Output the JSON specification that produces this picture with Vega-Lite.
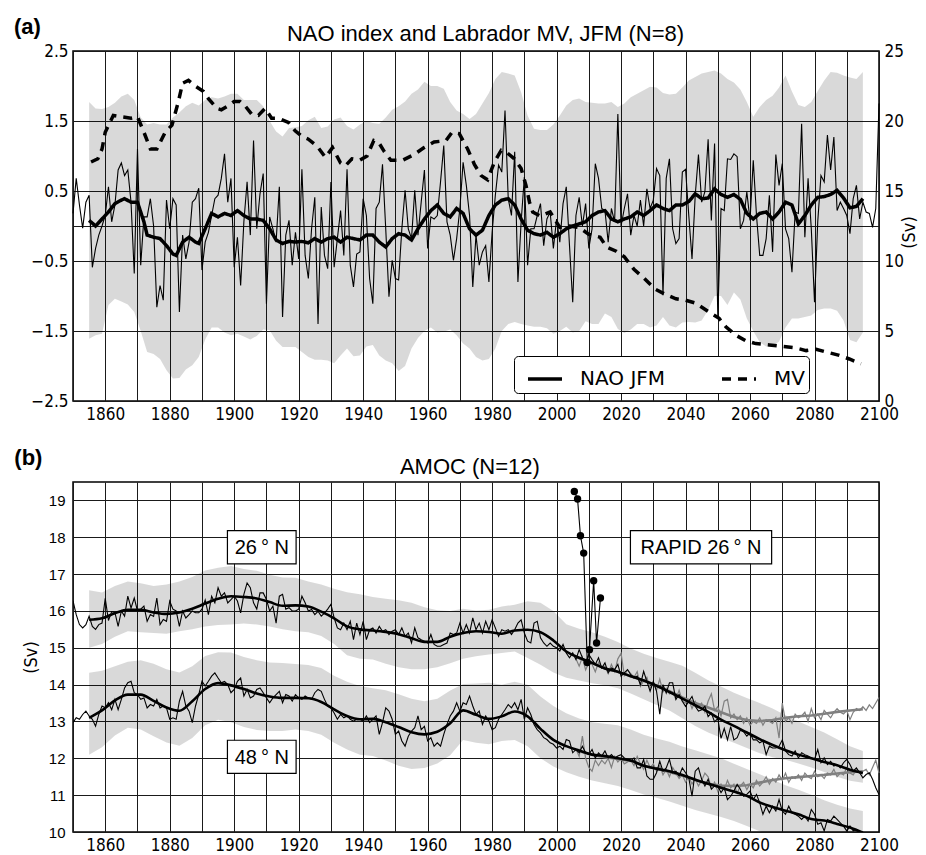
{
"$schema": "https://vega.github.io/schema/vega-lite/v6.json",
"padding": {"left": 13, "top": 14, "right": 5, "bottom": 5},
"spacing": 23,
"config": {
  "view": {"stroke": "black", "strokeWidth": 1.5},
  "axis": {"gridColor": "#1a1a1a", "gridOpacity": 1, "gridWidth": 1, "ticks": false, "domain": false, "labelColor": "black", "labelFlush": false, "labelOverlap": false, "titleColor": "black", "titleFontWeight": "normal"}
},
"datasets": {
"naoA": [
{"year":1850,"v":0.18},{"year":1851,"v":0.68},{"year":1852,"v":0.3},{"year":1853,"v":-0.03},{"year":1854,"v":0.34},{"year":1855,"v":0.44},{"year":1856,"v":-0.59},{"year":1857,"v":-0.32},{"year":1858,"v":-0.13},{"year":1859,"v":0.0},
{"year":1860,"v":0.15},{"year":1861,"v":0.56},{"year":1862,"v":0.06},{"year":1863,"v":0.3},{"year":1864,"v":0.8},{"year":1865,"v":0.9},{"year":1866,"v":0.72},{"year":1867,"v":0.8},{"year":1868,"v":0.34},{"year":1869,"v":-0.68},
{"year":1870,"v":1.1},{"year":1871,"v":-0.56},{"year":1872,"v":0.13},{"year":1873,"v":0.13},{"year":1874,"v":0.39},{"year":1875,"v":0.0},{"year":1876,"v":-1.16},{"year":1877,"v":-0.85},{"year":1878,"v":-1.06},{"year":1879,"v":0.37},
{"year":1880,"v":-0.04},{"year":1881,"v":0.39},{"year":1882,"v":0.3},{"year":1883,"v":-1.23},{"year":1884,"v":-0.13},{"year":1885,"v":-0.47},{"year":1886,"v":-0.23},{"year":1887,"v":0.34},{"year":1888,"v":0.39},{"year":1889,"v":0.54},
{"year":1890,"v":-0.63},{"year":1891,"v":-0.23},{"year":1892,"v":-0.09},{"year":1893,"v":0.15},{"year":1894,"v":0.39},{"year":1895,"v":0.44},{"year":1896,"v":0.68},{"year":1897,"v":1.03},{"year":1898,"v":0.34},{"year":1899,"v":0.68},
{"year":1900,"v":-0.59},{"year":1901,"v":-0.16},{"year":1902,"v":-0.85},{"year":1903,"v":0.06},{"year":1904,"v":0.63},{"year":1905,"v":-0.13},{"year":1906,"v":1.22},{"year":1907,"v":-0.04},{"year":1908,"v":0.46},{"year":1909,"v":0.75},
{"year":1910,"v":-1.11},{"year":1911,"v":0.13},{"year":1912,"v":-0.04},{"year":1913,"v":-0.23},{"year":1914,"v":0.56},{"year":1915,"v":-1.3},{"year":1916,"v":-0.13},{"year":1917,"v":0.08},{"year":1918,"v":-0.56},{"year":1919,"v":-0.09},
{"year":1920,"v":-0.47},{"year":1921,"v":0.81},{"year":1922,"v":-0.42},{"year":1923,"v":-0.75},{"year":1924,"v":-0.04},{"year":1925,"v":0.41},{"year":1926,"v":-1.4},{"year":1927,"v":0.27},{"year":1928,"v":-0.42},{"year":1929,"v":-0.61},
{"year":1930,"v":0.63},{"year":1931,"v":-0.59},{"year":1932,"v":-0.18},{"year":1933,"v":0.22},{"year":1934,"v":-0.42},{"year":1935,"v":0.81},{"year":1936,"v":-0.56},{"year":1937,"v":-0.87},{"year":1938,"v":-0.4},{"year":1939,"v":-0.37},
{"year":1940,"v":0.39},{"year":1941,"v":0.15},{"year":1942,"v":-0.75},{"year":1943,"v":-1.11},{"year":1944,"v":0.25},{"year":1945,"v":0.34},{"year":1946,"v":0.88},{"year":1947,"v":-0.04},{"year":1948,"v":-1.01},{"year":1949,"v":-0.49},
{"year":1950,"v":-0.75},{"year":1951,"v":-0.77},{"year":1952,"v":-0.04},{"year":1953,"v":0.51},{"year":1954,"v":-0.04},{"year":1955,"v":-0.18},{"year":1956,"v":0.51},{"year":1957,"v":-0.13},{"year":1958,"v":0.34},{"year":1959,"v":0.8},
{"year":1960,"v":-0.32},{"year":1961,"v":0.13},{"year":1962,"v":0.1},{"year":1963,"v":0.15},{"year":1964,"v":0.63},{"year":1965,"v":1.15},{"year":1966,"v":0.06},{"year":1967,"v":-0.13},{"year":1968,"v":-0.49},{"year":1969,"v":-0.18},
{"year":1970,"v":0.25},{"year":1971,"v":0.91},{"year":1972,"v":0.58},{"year":1973,"v":0.15},{"year":1974,"v":-0.87},{"year":1975,"v":-0.13},{"year":1976,"v":-0.56},{"year":1977,"v":-0.37},{"year":1978,"v":-0.28},{"year":1979,"v":-0.8},
{"year":1980,"v":-0.09},{"year":1981,"v":0.44},{"year":1982,"v":0.87},{"year":1983,"v":0.77},{"year":1984,"v":1.65},{"year":1985,"v":0.39},{"year":1986,"v":0.15},{"year":1987,"v":1.06},{"year":1988,"v":-0.8},{"year":1989,"v":0.06},
{"year":1990,"v":0.7},{"year":1991,"v":-0.56},{"year":1992,"v":-0.04},{"year":1993,"v":-0.04},{"year":1994,"v":0.15},{"year":1995,"v":0.32},{"year":1996,"v":-0.28},{"year":1997,"v":0.1},{"year":1998,"v":0.2},{"year":1999,"v":-0.32},
{"year":2000,"v":0.1},{"year":2001,"v":-0.23},{"year":2002,"v":0.32},{"year":2003,"v":0.56},{"year":2004,"v":-0.28},{"year":2005,"v":-1.09},{"year":2006,"v":0.15},{"year":2007,"v":0.41},{"year":2008,"v":0.0},{"year":2009,"v":0.32},
{"year":2010,"v":-0.32},{"year":2011,"v":-0.04},{"year":2012,"v":0.89},{"year":2013,"v":0.68},{"year":2014,"v":0.25},{"year":2015,"v":0.22},{"year":2016,"v":-0.23},{"year":2017,"v":0.25},{"year":2018,"v":0.06},{"year":2019,"v":1.6},
{"year":2020,"v":0.0},{"year":2021,"v":0.25},{"year":2022,"v":0.46},{"year":2023,"v":-0.13},{"year":2024,"v":0.15},{"year":2025,"v":0.0},{"year":2026,"v":0.37},{"year":2027,"v":0.0},{"year":2028,"v":0.53},{"year":2029,"v":0.25},
{"year":2030,"v":0.37},{"year":2031,"v":0.82},{"year":2032,"v":0.72},{"year":2033,"v":-0.99},{"year":2034,"v":0.68},{"year":2035,"v":0.96},{"year":2036,"v":-0.04},{"year":2037,"v":-0.25},{"year":2038,"v":-0.18},{"year":2039,"v":0.77},
{"year":2040,"v":0.81},{"year":2041,"v":0.15},{"year":2042,"v":-0.47},{"year":2043,"v":0.44},{"year":2044,"v":1.02},{"year":2045,"v":0.34},{"year":2046,"v":0.49},{"year":2047,"v":1.24},{"year":2048,"v":0.08},{"year":2049,"v":1.18},
{"year":2050,"v":-1.3},{"year":2051,"v":0.25},{"year":2052,"v":0.22},{"year":2053,"v":0.96},{"year":2054,"v":0.95},{"year":2055,"v":1.03},{"year":2056,"v":0.99},{"year":2057,"v":-0.04},{"year":2058,"v":0.08},{"year":2059,"v":0.49},
{"year":2060,"v":0.08},{"year":2061,"v":0.94},{"year":2062,"v":0.15},{"year":2063,"v":-0.42},{"year":2064,"v":-0.42},{"year":2065,"v":-0.18},{"year":2066,"v":0.44},{"year":2067,"v":-0.37},{"year":2068,"v":1.02},{"year":2069,"v":0.58},
{"year":2070,"v":0.89},{"year":2071,"v":-0.04},{"year":2072,"v":-0.18},{"year":2073,"v":-0.66},{"year":2074,"v":0.2},{"year":2075,"v":0.18},{"year":2076,"v":1.46},{"year":2077,"v":-0.16},{"year":2078,"v":0.68},{"year":2079,"v":-0.04},
{"year":2080,"v":-1.09},{"year":2081,"v":0.06},{"year":2082,"v":0.72},{"year":2083,"v":0.63},{"year":2084,"v":1.3},{"year":2085,"v":0.8},{"year":2086,"v":1.27},{"year":2087,"v":0.22},{"year":2088,"v":0.34},{"year":2089,"v":0.25},
{"year":2090,"v":0.15},{"year":2091,"v":-0.11},{"year":2092,"v":0.39},{"year":2093,"v":0.58},{"year":2094,"v":0.1},{"year":2095,"v":0.34},{"year":2096,"v":0.2},{"year":2097,"v":0.18},{"year":2098,"v":-0.02},{"year":2099,"v":0.25},{"year":2100,"v":1.75}
],
"naoS": [
{"year":1855,"v":0.08},{"year":1857,"v":0.0},{"year":1859,"v":0.1},{"year":1861,"v":0.2},{"year":1863,"v":0.32},{"year":1865,"v":0.37},{"year":1866,"v":0.39},{"year":1868,"v":0.34},{"year":1870,"v":0.34},{"year":1872,"v":0.06},
{"year":1873,"v":-0.13},{"year":1875,"v":-0.16},{"year":1877,"v":-0.18},{"year":1879,"v":-0.28},{"year":1881,"v":-0.4},{"year":1882,"v":-0.42},{"year":1884,"v":-0.23},{"year":1886,"v":-0.16},{"year":1888,"v":-0.23},{"year":1889,"v":-0.25},
{"year":1891,"v":-0.04},{"year":1893,"v":0.18},{"year":1895,"v":0.13},{"year":1897,"v":0.18},{"year":1899,"v":0.15},{"year":1901,"v":0.22},{"year":1903,"v":0.15},{"year":1905,"v":0.1},{"year":1907,"v":0.1},{"year":1909,"v":0.08},
{"year":1911,"v":-0.04},{"year":1913,"v":-0.2},{"year":1915,"v":-0.25},{"year":1917,"v":-0.22},{"year":1919,"v":-0.23},{"year":1921,"v":-0.22},{"year":1923,"v":-0.24},{"year":1925,"v":-0.18},{"year":1927,"v":-0.23},{"year":1929,"v":-0.18},
{"year":1931,"v":-0.16},{"year":1933,"v":-0.23},{"year":1935,"v":-0.16},{"year":1937,"v":-0.18},{"year":1939,"v":-0.2},{"year":1941,"v":-0.13},{"year":1943,"v":-0.13},{"year":1945,"v":-0.23},{"year":1947,"v":-0.3},{"year":1949,"v":-0.18},
{"year":1951,"v":-0.11},{"year":1953,"v":-0.13},{"year":1955,"v":-0.2},{"year":1957,"v":-0.04},{"year":1959,"v":0.1},{"year":1961,"v":0.22},{"year":1963,"v":0.3},{"year":1965,"v":0.18},{"year":1967,"v":0.13},{"year":1969,"v":0.25},
{"year":1971,"v":0.18},{"year":1973,"v":-0.04},{"year":1975,"v":-0.13},{"year":1977,"v":-0.06},{"year":1979,"v":0.15},{"year":1981,"v":0.3},{"year":1983,"v":0.37},{"year":1985,"v":0.39},{"year":1987,"v":0.3},{"year":1989,"v":0.1},
{"year":1991,"v":-0.06},{"year":1993,"v":-0.11},{"year":1995,"v":-0.13},{"year":1997,"v":-0.09},{"year":1999,"v":-0.16},{"year":2001,"v":-0.11},{"year":2003,"v":-0.04},{"year":2005,"v":0.0},{"year":2007,"v":0.03},{"year":2009,"v":0.06},
{"year":2011,"v":0.15},{"year":2013,"v":0.2},{"year":2015,"v":0.22},{"year":2017,"v":0.1},{"year":2019,"v":0.06},{"year":2021,"v":0.1},{"year":2023,"v":0.13},{"year":2025,"v":0.2},{"year":2027,"v":0.15},{"year":2029,"v":0.22},
{"year":2031,"v":0.3},{"year":2033,"v":0.25},{"year":2035,"v":0.22},{"year":2037,"v":0.3},{"year":2039,"v":0.3},{"year":2041,"v":0.35},{"year":2043,"v":0.46},{"year":2045,"v":0.39},{"year":2047,"v":0.4},{"year":2049,"v":0.53},
{"year":2051,"v":0.45},{"year":2053,"v":0.41},{"year":2055,"v":0.45},{"year":2057,"v":0.38},{"year":2059,"v":0.18},{"year":2061,"v":0.1},{"year":2063,"v":0.18},{"year":2065,"v":0.2},{"year":2067,"v":0.1},{"year":2069,"v":0.2},
{"year":2071,"v":0.34},{"year":2073,"v":0.3},{"year":2075,"v":0.03},{"year":2077,"v":0.15},{"year":2079,"v":0.3},{"year":2081,"v":0.41},{"year":2083,"v":0.42},{"year":2085,"v":0.45},{"year":2087,"v":0.51},{"year":2089,"v":0.4},
{"year":2091,"v":0.26},{"year":2093,"v":0.28},{"year":2095,"v":0.39}
],
"bandA": [
{"year":1855,"hi":1.77,"lo":-1.61},{"year":1857,"hi":1.68,"lo":-1.56},{"year":1859,"hi":1.67,"lo":-1.54},{"year":1861,"hi":1.7,"lo":-1.13},{"year":1863,"hi":1.76,"lo":-1.04},{"year":1865,"hi":1.85,"lo":-1.08},{"year":1867,"hi":1.89,"lo":-1.12},{"year":1869,"hi":1.8,"lo":-1.23},
{"year":1871,"hi":1.55,"lo":-1.5},{"year":1873,"hi":1.45,"lo":-1.8},{"year":1875,"hi":1.47,"lo":-1.83},{"year":1877,"hi":1.45,"lo":-1.9},{"year":1879,"hi":1.45,"lo":-2.06},{"year":1881,"hi":1.55,"lo":-2.18},{"year":1883,"hi":1.62,"lo":-2.17},{"year":1885,"hi":1.71,"lo":-2.05},
{"year":1887,"hi":1.76,"lo":-1.99},{"year":1889,"hi":1.72,"lo":-1.87},{"year":1891,"hi":1.8,"lo":-1.62},{"year":1893,"hi":1.84,"lo":-1.45},{"year":1895,"hi":1.82,"lo":-1.45},{"year":1897,"hi":1.85,"lo":-1.52},{"year":1899,"hi":1.89,"lo":-1.56},{"year":1901,"hi":1.89,"lo":-1.54},
{"year":1903,"hi":1.8,"lo":-1.58},{"year":1905,"hi":1.8,"lo":-1.62},{"year":1907,"hi":1.8,"lo":-1.57},{"year":1909,"hi":1.71,"lo":-1.48},{"year":1911,"hi":1.5,"lo":-1.49},{"year":1913,"hi":1.35,"lo":-1.64},{"year":1915,"hi":1.28,"lo":-1.73},{"year":1917,"hi":1.4,"lo":-1.73},
{"year":1919,"hi":1.41,"lo":-1.73},{"year":1921,"hi":1.43,"lo":-1.8},{"year":1923,"hi":1.51,"lo":-1.87},{"year":1925,"hi":1.56,"lo":-1.91},{"year":1927,"hi":1.4,"lo":-1.91},{"year":1929,"hi":1.42,"lo":-1.92},{"year":1931,"hi":1.52,"lo":-1.96},{"year":1933,"hi":1.55,"lo":-1.85},
{"year":1935,"hi":1.43,"lo":-1.75},{"year":1937,"hi":1.38,"lo":-1.86},{"year":1939,"hi":1.45,"lo":-1.85},{"year":1941,"hi":1.5,"lo":-1.72},{"year":1943,"hi":1.47,"lo":-1.7},{"year":1945,"hi":1.46,"lo":-1.85},{"year":1947,"hi":1.55,"lo":-1.92},{"year":1949,"hi":1.66,"lo":-1.96},
{"year":1951,"hi":1.71,"lo":-2.07},{"year":1953,"hi":1.78,"lo":-2.0},{"year":1955,"hi":1.89,"lo":-1.75},{"year":1957,"hi":1.95,"lo":-1.6},{"year":1959,"hi":2.06,"lo":-1.5},{"year":1961,"hi":2.0,"lo":-1.45},{"year":1963,"hi":2.0,"lo":-1.52},{"year":1965,"hi":1.96,"lo":-1.51},
{"year":1967,"hi":1.77,"lo":-1.48},{"year":1969,"hi":1.65,"lo":-1.56},{"year":1971,"hi":1.6,"lo":-1.68},{"year":1973,"hi":1.53,"lo":-1.75},{"year":1975,"hi":1.6,"lo":-1.87},{"year":1977,"hi":1.75,"lo":-1.92},{"year":1979,"hi":1.9,"lo":-1.9},{"year":1981,"hi":2.1,"lo":-1.75},
{"year":1983,"hi":2.2,"lo":-1.5},{"year":1985,"hi":2.18,"lo":-1.4},{"year":1987,"hi":2.15,"lo":-1.37},{"year":1989,"hi":1.91,"lo":-1.4},{"year":1991,"hi":1.58,"lo":-1.42},{"year":1993,"hi":1.39,"lo":-1.44},{"year":1995,"hi":1.37,"lo":-1.44},{"year":1997,"hi":1.37,"lo":-1.46},
{"year":1999,"hi":1.45,"lo":-1.54},{"year":2001,"hi":1.58,"lo":-1.5},{"year":2003,"hi":1.72,"lo":-1.44},{"year":2005,"hi":1.8,"lo":-1.52},{"year":2007,"hi":1.82,"lo":-1.5},{"year":2009,"hi":1.77,"lo":-1.36},{"year":2011,"hi":1.76,"lo":-1.4},{"year":2013,"hi":1.75,"lo":-1.4},
{"year":2015,"hi":1.75,"lo":-1.25},{"year":2017,"hi":1.77,"lo":-1.3},{"year":2019,"hi":1.7,"lo":-1.47},{"year":2021,"hi":1.75,"lo":-1.53},{"year":2023,"hi":1.84,"lo":-1.48},{"year":2025,"hi":1.89,"lo":-1.4},{"year":2027,"hi":1.94,"lo":-1.4},{"year":2029,"hi":1.99,"lo":-1.45},
{"year":2031,"hi":1.98,"lo":-1.42},{"year":2033,"hi":1.9,"lo":-1.3},{"year":2035,"hi":1.88,"lo":-1.42},{"year":2037,"hi":1.89,"lo":-1.45},{"year":2039,"hi":1.98,"lo":-1.38},{"year":2041,"hi":2.08,"lo":-1.37},{"year":2043,"hi":2.13,"lo":-1.38},{"year":2045,"hi":2.18,"lo":-1.35},
{"year":2047,"hi":2.2,"lo":-1.2},{"year":2049,"hi":2.22,"lo":-1.0},{"year":2051,"hi":2.18,"lo":-1.0},{"year":2053,"hi":2.1,"lo":-1.13},{"year":2055,"hi":2.05,"lo":-0.95},{"year":2057,"hi":1.95,"lo":-1.05},{"year":2059,"hi":1.77,"lo":-1.32},{"year":2061,"hi":1.56,"lo":-1.5},
{"year":2063,"hi":1.7,"lo":-1.66},{"year":2065,"hi":1.8,"lo":-1.72},{"year":2067,"hi":1.86,"lo":-1.72},{"year":2069,"hi":1.98,"lo":-1.65},{"year":2071,"hi":2.15,"lo":-1.45},{"year":2073,"hi":1.92,"lo":-1.32},{"year":2075,"hi":1.73,"lo":-1.32},{"year":2077,"hi":1.7,"lo":-1.3},
{"year":2079,"hi":1.77,"lo":-1.28},{"year":2081,"hi":1.93,"lo":-1.2},{"year":2083,"hi":2.08,"lo":-1.18},{"year":2085,"hi":2.2,"lo":-1.18},{"year":2087,"hi":2.19,"lo":-1.21},{"year":2089,"hi":2.15,"lo":-1.35},{"year":2091,"hi":2.12,"lo":-1.63},{"year":2093,"hi":2.1,"lo":-1.66},{"year":2095,"hi":2.2,"lo":-1.52}
],
"mv": [
{"year":1855.6,"mv":17.07},{"year":1857.7,"mv":17.3},{"year":1859,"mv":18.0},{"year":1860,"mv":19.2},{"year":1862.5,"mv":20.4},{"year":1865,"mv":20.3},{"year":1868,"mv":20.2},{"year":1870,"mv":20.3},{"year":1872,"mv":19.2},{"year":1874,"mv":18.0},
{"year":1876,"mv":18.0},{"year":1878.6,"mv":19.2},{"year":1880.7,"mv":19.7},{"year":1882.7,"mv":21.4},{"year":1884,"mv":22.7},{"year":1885.8,"mv":22.9},{"year":1887.9,"mv":22.5},{"year":1890.5,"mv":22.1},{"year":1892,"mv":21.6},{"year":1894.6,"mv":20.9},
{"year":1896,"mv":20.8},{"year":1898.2,"mv":21.1},{"year":1900,"mv":21.4},{"year":1901.8,"mv":21.4},{"year":1903.3,"mv":21.1},{"year":1905.4,"mv":20.5},{"year":1907.5,"mv":20.4},{"year":1909.6,"mv":20.9},{"year":1911.6,"mv":20.2},{"year":1913.7,"mv":20.2},
{"year":1916.8,"mv":19.9},{"year":1918.9,"mv":19.3},{"year":1921,"mv":18.9},{"year":1923,"mv":18.7},{"year":1925.7,"mv":18.2},{"year":1928.3,"mv":17.4},{"year":1930.5,"mv":18.1},{"year":1933,"mv":17.0},{"year":1934.5,"mv":16.8},{"year":1936.5,"mv":17.3},
{"year":1939,"mv":17.2},{"year":1941.2,"mv":17.5},{"year":1943.3,"mv":18.6},{"year":1945,"mv":18.4},{"year":1946.6,"mv":17.8},{"year":1948.6,"mv":17.2},{"year":1952.3,"mv":17.2},{"year":1955.8,"mv":17.6},{"year":1958.9,"mv":18.1},{"year":1962,"mv":18.5},
{"year":1965.7,"mv":18.6},{"year":1967.6,"mv":19.2},{"year":1969.8,"mv":19.1},{"year":1972.4,"mv":18.0},{"year":1974.5,"mv":16.9},{"year":1976.6,"mv":16.1},{"year":1978.6,"mv":15.8},{"year":1980.7,"mv":17.07},{"year":1982.8,"mv":17.9},{"year":1984.8,"mv":17.7},
{"year":1986.9,"mv":17.3},{"year":1989,"mv":16.6},{"year":1990.5,"mv":15.4},{"year":1991.6,"mv":14.2},{"year":1992.6,"mv":13.5},{"year":1995,"mv":13.2},{"year":1998,"mv":13.5},{"year":2001,"mv":12.4},{"year":2004,"mv":12.5},{"year":2007,"mv":12.4},
{"year":2010,"mv":11.9},{"year":2013.5,"mv":11.7},{"year":2015.5,"mv":11.0},{"year":2018.5,"mv":10.7},{"year":2021,"mv":10.3},{"year":2024,"mv":9.4},{"year":2027,"mv":8.8},{"year":2030.5,"mv":8.0},{"year":2033.9,"mv":7.6},{"year":2037,"mv":7.3},
{"year":2040,"mv":7.2},{"year":2043,"mv":7.0},{"year":2047,"mv":6.4},{"year":2050.4,"mv":5.9},{"year":2052.5,"mv":5.3},{"year":2055.6,"mv":4.7},{"year":2058.7,"mv":4.3},{"year":2061.8,"mv":4.1},{"year":2066,"mv":4.0},{"year":2070,"mv":3.9},
{"year":2074,"mv":3.8},{"year":2077.4,"mv":3.6},{"year":2080.5,"mv":3.7},{"year":2083.6,"mv":3.5},{"year":2087.7,"mv":3.26},{"year":2090.8,"mv":3.0},{"year":2094.4,"mv":2.66}
],
"amocA": [
{"year":1850,"t26":16.27,"t48":12.97},{"year":1851,"t26":15.9,"t48":13.1},{"year":1852,"t26":15.63,"t48":13.06},{"year":1853,"t26":15.54,"t48":13.19},{"year":1854,"t26":15.63,"t48":13.28},{"year":1855,"t26":15.86,"t48":13.15},{"year":1856,"t26":15.58,"t48":13.06},{"year":1857,"t26":15.5,"t48":12.87},{"year":1858,"t26":15.63,"t48":13.19},{"year":1859,"t26":15.67,"t48":13.42},
{"year":1860,"t26":16.34,"t48":13.37},{"year":1861,"t26":15.74,"t48":13.51},{"year":1862,"t26":15.98,"t48":13.32},{"year":1863,"t26":15.96,"t48":13.6},{"year":1864,"t26":15.58,"t48":13.32},{"year":1865,"t26":16.0,"t48":13.6},{"year":1866,"t26":15.86,"t48":13.91},{"year":1867,"t26":16.4,"t48":14.05},{"year":1868,"t26":16.08,"t48":14.09},{"year":1869,"t26":16.35,"t48":13.78},
{"year":1870,"t26":16.0,"t48":13.73},{"year":1871,"t26":16.05,"t48":13.6},{"year":1872,"t26":16.13,"t48":13.64},{"year":1873,"t26":15.72,"t48":13.37},{"year":1874,"t26":15.9,"t48":13.46},{"year":1875,"t26":15.85,"t48":13.42},{"year":1876,"t26":16.35,"t48":13.6},{"year":1877,"t26":15.63,"t48":13.37},{"year":1878,"t26":15.77,"t48":13.42},{"year":1879,"t26":15.72,"t48":13.37},
{"year":1880,"t26":16.27,"t48":13.06},{"year":1881,"t26":16.05,"t48":13.1},{"year":1882,"t26":16.0,"t48":13.06},{"year":1883,"t26":15.58,"t48":13.55},{"year":1884,"t26":16.0,"t48":13.82},{"year":1885,"t26":15.81,"t48":13.42},{"year":1886,"t26":15.9,"t48":13.28},{"year":1887,"t26":16.0,"t48":12.97},{"year":1888,"t26":15.95,"t48":13.42},{"year":1889,"t26":15.95,"t48":13.73},
{"year":1890,"t26":16.05,"t48":14.09},{"year":1891,"t26":16.3,"t48":13.96},{"year":1892,"t26":15.9,"t48":14.09},{"year":1893,"t26":16.4,"t48":14.23},{"year":1894,"t26":16.22,"t48":14.32},{"year":1895,"t26":16.63,"t48":14.18},{"year":1896,"t26":16.4,"t48":14.05},{"year":1897,"t26":16.49,"t48":14.09},{"year":1898,"t26":16.22,"t48":14.0},{"year":1899,"t26":16.31,"t48":13.78},
{"year":1900,"t26":16.4,"t48":13.87},{"year":1901,"t26":16.27,"t48":14.09},{"year":1902,"t26":15.95,"t48":14.18},{"year":1903,"t26":16.45,"t48":13.69},{"year":1904,"t26":16.76,"t48":13.87},{"year":1905,"t26":16.63,"t48":13.64},{"year":1906,"t26":16.22,"t48":13.69},{"year":1907,"t26":16.05,"t48":13.87},{"year":1908,"t26":16.49,"t48":13.91},{"year":1909,"t26":16.49,"t48":13.78},
{"year":1910,"t26":16.31,"t48":13.64},{"year":1911,"t26":16.0,"t48":13.51},{"year":1912,"t26":16.13,"t48":13.64},{"year":1913,"t26":15.67,"t48":13.73},{"year":1914,"t26":16.4,"t48":13.82},{"year":1915,"t26":16.45,"t48":13.51},{"year":1916,"t26":16.05,"t48":13.73},{"year":1917,"t26":16.09,"t48":13.69},{"year":1918,"t26":16.0,"t48":13.55},{"year":1919,"t26":16.0,"t48":13.73},
{"year":1920,"t26":16.05,"t48":13.64},{"year":1921,"t26":16.4,"t48":13.6},{"year":1922,"t26":16.22,"t48":13.69},{"year":1923,"t26":16.0,"t48":13.64},{"year":1924,"t26":16.04,"t48":13.6},{"year":1925,"t26":15.9,"t48":13.78},{"year":1926,"t26":15.99,"t48":13.87},{"year":1927,"t26":15.86,"t48":13.82},{"year":1928,"t26":15.94,"t48":13.6},{"year":1929,"t26":16.05,"t48":13.42},
{"year":1930,"t26":16.18,"t48":13.37},{"year":1931,"t26":15.81,"t48":13.23},{"year":1932,"t26":15.54,"t48":13.06},{"year":1933,"t26":15.49,"t48":13.19},{"year":1934,"t26":15.67,"t48":13.1},{"year":1935,"t26":15.49,"t48":13.15},{"year":1936,"t26":15.72,"t48":13.06},{"year":1937,"t26":15.22,"t48":13.01},{"year":1938,"t26":15.67,"t48":13.06},{"year":1939,"t26":15.36,"t48":13.06},
{"year":1940,"t26":15.72,"t48":13.01},{"year":1941,"t26":15.22,"t48":13.15},{"year":1942,"t26":15.49,"t48":12.97},{"year":1943,"t26":15.54,"t48":13.06},{"year":1944,"t26":15.4,"t48":13.15},{"year":1945,"t26":15.58,"t48":12.65},{"year":1946,"t26":15.45,"t48":12.97},{"year":1947,"t26":15.49,"t48":13.37},{"year":1948,"t26":15.36,"t48":13.28},{"year":1949,"t26":15.45,"t48":13.06},
{"year":1950,"t26":15.49,"t48":12.65},{"year":1951,"t26":15.36,"t48":12.74},{"year":1952,"t26":15.54,"t48":12.47},{"year":1953,"t26":15.31,"t48":12.33},{"year":1954,"t26":15.4,"t48":12.6},{"year":1955,"t26":15.13,"t48":12.74},{"year":1956,"t26":15.54,"t48":12.83},{"year":1957,"t26":15.27,"t48":13.15},{"year":1958,"t26":15.22,"t48":12.78},{"year":1959,"t26":15.18,"t48":12.87},
{"year":1960,"t26":15.13,"t48":12.47},{"year":1961,"t26":15.36,"t48":12.56},{"year":1962,"t26":15.09,"t48":12.33},{"year":1963,"t26":15.04,"t48":12.42},{"year":1964,"t26":15.04,"t48":12.33},{"year":1965,"t26":15.09,"t48":12.65},{"year":1966,"t26":15.13,"t48":12.92},{"year":1967,"t26":15.4,"t48":13.15},{"year":1968,"t26":15.36,"t48":13.28},{"year":1969,"t26":15.4,"t48":13.51},
{"year":1970,"t26":15.67,"t48":13.28},{"year":1971,"t26":15.4,"t48":13.51},{"year":1972,"t26":15.63,"t48":13.46},{"year":1973,"t26":15.4,"t48":13.69},{"year":1974,"t26":15.81,"t48":13.42},{"year":1975,"t26":15.49,"t48":13.19},{"year":1976,"t26":15.67,"t48":13.28},{"year":1977,"t26":15.4,"t48":12.92},{"year":1978,"t26":15.72,"t48":13.15},{"year":1979,"t26":15.49,"t48":13.01},
{"year":1980,"t26":15.76,"t48":12.78},{"year":1981,"t26":15.54,"t48":12.83},{"year":1982,"t26":15.31,"t48":13.06},{"year":1983,"t26":15.49,"t48":13.19},{"year":1984,"t26":15.45,"t48":13.32},{"year":1985,"t26":15.49,"t48":13.46},{"year":1986,"t26":15.36,"t48":13.37},{"year":1987,"t26":15.49,"t48":13.51},{"year":1988,"t26":15.67,"t48":13.32},{"year":1989,"t26":15.76,"t48":13.6},
{"year":1990,"t26":15.4,"t48":13.06},{"year":1991,"t26":15.18,"t48":13.37},{"year":1992,"t26":15.13,"t48":13.19},{"year":1993,"t26":15.67,"t48":12.92},{"year":1994,"t26":15.72,"t48":12.78},{"year":1995,"t26":15.27,"t48":12.69},{"year":1996,"t26":15.13,"t48":12.56},{"year":1997,"t26":15.04,"t48":12.51},{"year":1998,"t26":15.13,"t48":12.42},{"year":1999,"t26":15.04,"t48":12.38},
{"year":2000,"t26":15.0,"t48":12.28},{"year":2001,"t26":14.91,"t48":12.33},{"year":2002,"t26":15.09,"t48":12.24},{"year":2003,"t26":14.86,"t48":12.51},{"year":2004,"t26":14.73,"t48":12.47},{"year":2005,"t26":14.86,"t48":12.15},{"year":2006,"t26":14.68,"t48":12.24},{"year":2007,"t26":14.95,"t48":12.15},{"year":2008,"t26":14.73,"t48":12.33},{"year":2009,"t26":14.59,"t48":12.15},
{"year":2010,"t26":14.82,"t48":12.1},{"year":2011,"t26":14.68,"t48":12.24},{"year":2012,"t26":14.55,"t48":12.01},{"year":2013,"t26":14.73,"t48":12.15},{"year":2014,"t26":14.45,"t48":12.06},{"year":2015,"t26":14.59,"t48":12.2},{"year":2016,"t26":14.32,"t48":12.01},{"year":2017,"t26":14.45,"t48":12.1},{"year":2018,"t26":14.41,"t48":12.01},{"year":2019,"t26":14.55,"t48":12.06},
{"year":2020,"t26":14.23,"t48":12.1},{"year":2021,"t26":14.32,"t48":12.01},{"year":2022,"t26":14.41,"t48":11.97},{"year":2023,"t26":14.27,"t48":11.92},{"year":2024,"t26":14.18,"t48":12.01},{"year":2025,"t26":14.23,"t48":11.74},{"year":2026,"t26":14.0,"t48":11.74},{"year":2027,"t26":14.36,"t48":11.97},{"year":2028,"t26":14.09,"t48":11.52},{"year":2029,"t26":13.82,"t48":11.43},
{"year":2030,"t26":14.09,"t48":11.43},{"year":2031,"t26":13.82,"t48":11.61},{"year":2032,"t26":13.2,"t48":11.92},{"year":2033,"t26":14.0,"t48":11.65},{"year":2034,"t26":13.77,"t48":11.74},{"year":2035,"t26":14.05,"t48":11.97},{"year":2036,"t26":14.05,"t48":11.61},{"year":2037,"t26":13.6,"t48":11.65},{"year":2038,"t26":13.73,"t48":11.52},{"year":2039,"t26":13.55,"t48":11.74},
{"year":2040,"t26":13.41,"t48":11.61},{"year":2041,"t26":13.55,"t48":11.47},{"year":2042,"t26":13.68,"t48":10.97},{"year":2043,"t26":13.41,"t48":11.65},{"year":2044,"t26":13.28,"t48":11.74},{"year":2045,"t26":13.32,"t48":11.43},{"year":2046,"t26":13.41,"t48":11.25},{"year":2047,"t26":13.13,"t48":11.43},{"year":2048,"t26":13.23,"t48":11.16},{"year":2049,"t26":12.99,"t48":11.25},
{"year":2050,"t26":13.08,"t48":11.25},{"year":2051,"t26":12.54,"t48":11.07},{"year":2052,"t26":12.81,"t48":11.2},{"year":2053,"t26":12.5,"t48":10.88},{"year":2054,"t26":12.86,"t48":10.97},{"year":2055,"t26":12.5,"t48":11.11},{"year":2056,"t26":12.56,"t48":11.29},{"year":2057,"t26":12.77,"t48":11.16},{"year":2058,"t26":12.72,"t48":10.97},{"year":2059,"t26":12.6,"t48":11.02},
{"year":2060,"t26":12.69,"t48":11.11},{"year":2061,"t26":12.5,"t48":10.88},{"year":2062,"t26":12.5,"t48":11.02},{"year":2063,"t26":12.42,"t48":10.79},{"year":2064,"t26":12.47,"t48":10.48},{"year":2065,"t26":12.1,"t48":10.7},{"year":2066,"t26":12.33,"t48":10.52},{"year":2067,"t26":12.28,"t48":10.7},{"year":2068,"t26":12.28,"t48":10.57},{"year":2069,"t26":12.33,"t48":10.88},
{"year":2070,"t26":12.5,"t48":10.57},{"year":2071,"t26":12.2,"t48":10.48},{"year":2072,"t26":12.1,"t48":10.7},{"year":2073,"t26":12.06,"t48":10.52},{"year":2074,"t26":12.2,"t48":10.48},{"year":2075,"t26":12.01,"t48":10.43},{"year":2076,"t26":12.15,"t48":10.34},{"year":2077,"t26":12.1,"t48":10.43},{"year":2078,"t26":12.06,"t48":10.3},{"year":2079,"t26":12.01,"t48":10.61},
{"year":2080,"t26":11.97,"t48":10.48},{"year":2081,"t26":12.24,"t48":10.21},{"year":2082,"t26":11.88,"t48":10.25},{"year":2083,"t26":12.01,"t48":10.03},{"year":2084,"t26":11.83,"t48":10.34},{"year":2085,"t26":11.92,"t48":10.3},{"year":2086,"t26":11.79,"t48":10.43},{"year":2087,"t26":11.83,"t48":10.34},{"year":2088,"t26":11.74,"t48":10.25},{"year":2089,"t26":11.88,"t48":10.16},
{"year":2090,"t26":11.97,"t48":10.03},{"year":2091,"t26":11.83,"t48":10.16},{"year":2092,"t26":11.65,"t48":10.03},{"year":2093,"t26":11.74,"t48":10.07},{"year":2094,"t26":11.61,"t48":9.98},{"year":2095,"t26":11.47,"t48":9.89},{"year":2096,"t26":11.56,"t48":9.85},{"year":2097,"t26":11.61,"t48":9.8},{"year":2098,"t26":11.43,"t48":9.75},{"year":2099,"t26":11.2,"t48":9.7},{"year":2100,"t26":11.02,"t48":9.65}
],
"amocG": [
{"year":2006,"g26":14.7,"g48":12.25},{"year":2007,"g26":14.5,"g48":12.05},{"year":2008,"g26":14.75,"g48":12.6},{"year":2009,"g26":14.4,"g48":12.0},{"year":2010,"g26":14.6,"g48":11.75},{"year":2011,"g26":14.55,"g48":11.65},{"year":2012,"g26":14.35,"g48":11.95},{"year":2013,"g26":14.6,"g48":11.8},{"year":2014,"g26":14.45,"g48":11.95},{"year":2015,"g26":14.5,"g48":11.85},
{"year":2016,"g26":14.3,"g48":12.0},{"year":2017,"g26":14.55,"g48":11.75},{"year":2018,"g26":14.35,"g48":12.05},{"year":2019,"g26":14.7,"g48":11.9},{"year":2020,"g26":14.85,"g48":12.0},{"year":2021,"g26":14.25,"g48":11.85},{"year":2022,"g26":14.4,"g48":11.9},{"year":2023,"g26":14.3,"g48":11.95},{"year":2024,"g26":14.2,"g48":11.8},{"year":2025,"g26":14.35,"g48":12.05},
{"year":2026,"g26":13.95,"g48":11.85},{"year":2027,"g26":14.1,"g48":11.7},{"year":2028,"g26":14.2,"g48":11.95},{"year":2029,"g26":13.9,"g48":11.75},{"year":2030,"g26":14.05,"g48":11.85},{"year":2031,"g26":13.85,"g48":11.65},{"year":2032,"g26":14.15,"g48":11.8},{"year":2033,"g26":13.8,"g48":11.55},{"year":2034,"g26":13.9,"g48":11.7},{"year":2035,"g26":13.75,"g48":11.5},
{"year":2036,"g26":13.8,"g48":11.75},{"year":2037,"g26":13.6,"g48":11.6},{"year":2038,"g26":13.85,"g48":11.45},{"year":2039,"g26":13.55,"g48":11.55},{"year":2040,"g26":13.5,"g48":11.35},{"year":2041,"g26":13.6,"g48":11.5},{"year":2042,"g26":13.35,"g48":11.3},{"year":2043,"g26":13.55,"g48":11.45},{"year":2044,"g26":13.4,"g48":11.25},{"year":2045,"g26":13.5,"g48":11.4},
{"year":2046,"g26":13.25,"g48":11.6},{"year":2047,"g26":13.55,"g48":11.5},{"year":2048,"g26":13.75,"g48":11.2},{"year":2049,"g26":13.3,"g48":11.35},{"year":2050,"g26":13.4,"g48":11.1},{"year":2051,"g26":13.15,"g48":11.3},{"year":2052,"g26":13.55,"g48":11.15},{"year":2053,"g26":13.6,"g48":11.4},{"year":2054,"g26":13.1,"g48":11.2},{"year":2055,"g26":13.2,"g48":11.3},
{"year":2056,"g26":13.05,"g48":11.05},{"year":2057,"g26":13.15,"g48":11.25},{"year":2058,"g26":12.95,"g48":11.35},{"year":2059,"g26":13.1,"g48":11.15},{"year":2060,"g26":12.9,"g48":11.3},{"year":2061,"g26":13.0,"g48":11.2},{"year":2062,"g26":12.95,"g48":11.4},{"year":2063,"g26":13.1,"g48":11.25},{"year":2064,"g26":12.9,"g48":11.35},{"year":2065,"g26":13.05,"g48":11.5},
{"year":2066,"g26":13.0,"g48":11.3},{"year":2067,"g26":12.95,"g48":11.45},{"year":2068,"g26":13.1,"g48":11.35},{"year":2069,"g26":12.55,"g48":11.55},{"year":2070,"g26":13.5,"g48":11.4},{"year":2071,"g26":13.0,"g48":11.6},{"year":2072,"g26":13.1,"g48":11.35},{"year":2073,"g26":12.95,"g48":11.5},{"year":2074,"g26":13.2,"g48":11.45},{"year":2075,"g26":13.1,"g48":11.55},
{"year":2076,"g26":13.15,"g48":11.4},{"year":2077,"g26":13.25,"g48":11.6},{"year":2078,"g26":13.0,"g48":11.5},{"year":2079,"g26":13.35,"g48":11.45},{"year":2080,"g26":13.1,"g48":11.65},{"year":2081,"g26":13.2,"g48":11.5},{"year":2082,"g26":13.05,"g48":11.55},{"year":2083,"g26":13.3,"g48":11.45},{"year":2084,"g26":13.2,"g48":11.6},{"year":2085,"g26":13.1,"g48":11.55},
{"year":2086,"g26":13.25,"g48":11.7},{"year":2087,"g26":13.35,"g48":11.5},{"year":2088,"g26":13.25,"g48":11.6},{"year":2089,"g26":13.2,"g48":11.55},{"year":2090,"g26":13.3,"g48":11.75},{"year":2091,"g26":13.05,"g48":11.6},{"year":2092,"g26":13.25,"g48":11.55},{"year":2093,"g26":13.35,"g48":11.7},{"year":2094,"g26":13.3,"g48":11.6},{"year":2095,"g26":13.4,"g48":11.65},
{"year":2096,"g26":13.3,"g48":11.7},{"year":2097,"g26":13.45,"g48":11.55},{"year":2098,"g26":13.35,"g48":11.75},{"year":2099,"g26":13.5,"g48":11.95},{"year":2100,"g26":13.65,"g48":11.6}
],
"amocS": [
{"year":1855,"s26":15.76,"hi26":16.56,"lo26":15.0,"s48":13.1,"hi48":14.32,"lo48":12.1},
{"year":1859,"s26":15.8,"hi26":16.5,"lo26":15.1,"s48":13.3,"hi48":14.38,"lo48":12.3},
{"year":1863,"s26":15.94,"hi26":16.68,"lo26":15.3,"s48":13.57,"hi48":14.5,"lo48":12.62},
{"year":1867,"s26":16.03,"hi26":16.8,"lo26":15.45,"s48":13.73,"hi48":14.62,"lo48":12.83},
{"year":1871,"s26":16.03,"hi26":16.75,"lo26":15.42,"s48":13.73,"hi48":14.66,"lo48":12.78},
{"year":1875,"s26":15.96,"hi26":16.68,"lo26":15.4,"s48":13.56,"hi48":14.57,"lo48":12.6},
{"year":1879,"s26":15.92,"hi26":16.72,"lo26":15.38,"s48":13.38,"hi48":14.42,"lo48":12.43},
{"year":1883,"s26":15.96,"hi26":16.8,"lo26":15.45,"s48":13.29,"hi48":14.33,"lo48":12.34},
{"year":1887,"s26":16.06,"hi26":16.92,"lo26":15.5,"s48":13.55,"hi48":14.5,"lo48":12.55},
{"year":1891,"s26":16.2,"hi26":17.1,"lo26":15.58,"s48":13.88,"hi48":14.78,"lo48":12.9},
{"year":1895,"s26":16.33,"hi26":17.17,"lo26":15.62,"s48":14.04,"hi48":14.88,"lo48":13.05},
{"year":1899,"s26":16.4,"hi26":17.22,"lo26":15.63,"s48":13.98,"hi48":14.87,"lo48":12.98},
{"year":1903,"s26":16.38,"hi26":17.14,"lo26":15.66,"s48":13.88,"hi48":14.75,"lo48":12.85},
{"year":1907,"s26":16.34,"hi26":17.09,"lo26":15.63,"s48":13.76,"hi48":14.66,"lo48":12.77},
{"year":1911,"s26":16.24,"hi26":16.98,"lo26":15.58,"s48":13.68,"hi48":14.6,"lo48":12.74},
{"year":1915,"s26":16.14,"hi26":16.91,"lo26":15.5,"s48":13.64,"hi48":14.59,"lo48":12.74},
{"year":1919,"s26":16.15,"hi26":16.9,"lo26":15.45,"s48":13.64,"hi48":14.56,"lo48":12.78},
{"year":1923,"s26":16.12,"hi26":16.8,"lo26":15.42,"s48":13.63,"hi48":14.53,"lo48":12.74},
{"year":1927,"s26":15.98,"hi26":16.72,"lo26":15.32,"s48":13.53,"hi48":14.45,"lo48":12.64},
{"year":1931,"s26":15.8,"hi26":16.6,"lo26":15.1,"s48":13.33,"hi48":14.24,"lo48":12.42},
{"year":1935,"s26":15.58,"hi26":16.51,"lo26":14.8,"s48":13.15,"hi48":14.08,"lo48":12.24},
{"year":1939,"s26":15.5,"hi26":16.45,"lo26":14.7,"s48":13.06,"hi48":13.96,"lo48":12.1},
{"year":1943,"s26":15.47,"hi26":16.38,"lo26":14.68,"s48":13.07,"hi48":13.9,"lo48":12.06},
{"year":1947,"s26":15.43,"hi26":16.33,"lo26":14.57,"s48":12.98,"hi48":13.85,"lo48":11.94},
{"year":1951,"s26":15.37,"hi26":16.29,"lo26":14.47,"s48":12.85,"hi48":13.74,"lo48":11.8},
{"year":1955,"s26":15.26,"hi26":16.22,"lo26":14.42,"s48":12.71,"hi48":13.62,"lo48":11.71},
{"year":1959,"s26":15.16,"hi26":16.1,"lo26":14.42,"s48":12.65,"hi48":13.55,"lo48":11.74},
{"year":1963,"s26":15.16,"hi26":16.02,"lo26":14.47,"s48":12.72,"hi48":13.62,"lo48":11.86},
{"year":1967,"s26":15.3,"hi26":16.0,"lo26":14.58,"s48":12.95,"hi48":13.84,"lo48":12.08},
{"year":1971,"s26":15.4,"hi26":16.06,"lo26":14.7,"s48":13.3,"hi48":14.02,"lo48":12.5},
{"year":1975,"s26":15.45,"hi26":16.01,"lo26":14.77,"s48":13.18,"hi48":14.03,"lo48":12.42},
{"year":1979,"s26":15.43,"hi26":16.03,"lo26":14.82,"s48":13.07,"hi48":14.05,"lo48":12.38},
{"year":1983,"s26":15.38,"hi26":16.12,"lo26":14.86,"s48":13.14,"hi48":14.0,"lo48":12.47},
{"year":1987,"s26":15.47,"hi26":16.17,"lo26":14.9,"s48":13.27,"hi48":14.08,"lo48":12.5},
{"year":1991,"s26":15.49,"hi26":16.26,"lo26":14.72,"s48":13.14,"hi48":14.0,"lo48":12.33},
{"year":1995,"s26":15.42,"hi26":16.22,"lo26":14.54,"s48":12.8,"hi48":13.68,"lo48":12.0},
{"year":1999,"s26":15.2,"hi26":16.0,"lo26":14.33,"s48":12.5,"hi48":13.42,"lo48":11.78},
{"year":2003,"s26":14.9,"hi26":15.64,"lo26":14.19,"s48":12.33,"hi48":13.22,"lo48":11.62},
{"year":2007,"s26":14.73,"hi26":15.52,"lo26":14.11,"s48":12.21,"hi48":13.08,"lo48":11.5},
{"year":2011,"s26":14.59,"hi26":15.42,"lo26":14.04,"s48":12.1,"hi48":12.98,"lo48":11.4},
{"year":2015,"s26":14.44,"hi26":15.3,"lo26":13.98,"s48":12.06,"hi48":12.94,"lo48":11.32},
{"year":2019,"s26":14.35,"hi26":15.16,"lo26":13.9,"s48":12.0,"hi48":12.9,"lo48":11.25},
{"year":2023,"s26":14.23,"hi26":14.98,"lo26":13.76,"s48":11.94,"hi48":12.78,"lo48":11.14},
{"year":2027,"s26":14.11,"hi26":14.84,"lo26":13.6,"s48":11.8,"hi48":12.64,"lo48":11.02},
{"year":2031,"s26":13.97,"hi26":14.72,"lo26":13.45,"s48":11.72,"hi48":12.54,"lo48":10.93},
{"year":2035,"s26":13.8,"hi26":14.62,"lo26":13.3,"s48":11.65,"hi48":12.45,"lo48":10.83},
{"year":2039,"s26":13.62,"hi26":14.51,"lo26":13.09,"s48":11.55,"hi48":12.32,"lo48":10.71},
{"year":2043,"s26":13.44,"hi26":14.32,"lo26":12.88,"s48":11.42,"hi48":12.22,"lo48":10.6},
{"year":2047,"s26":13.26,"hi26":14.12,"lo26":12.7,"s48":11.31,"hi48":12.11,"lo48":10.5},
{"year":2051,"s26":13.05,"hi26":13.95,"lo26":12.56,"s48":11.2,"hi48":12.0,"lo48":10.41},
{"year":2055,"s26":12.88,"hi26":13.78,"lo26":12.42,"s48":11.1,"hi48":11.85,"lo48":10.3},
{"year":2059,"s26":12.7,"hi26":13.64,"lo26":12.28,"s48":10.98,"hi48":11.71,"lo48":10.16},
{"year":2063,"s26":12.52,"hi26":13.5,"lo26":12.14,"s48":10.8,"hi48":11.57,"lo48":10.02},
{"year":2067,"s26":12.36,"hi26":13.35,"lo26":12.03,"s48":10.68,"hi48":11.42,"lo48":9.9},
{"year":2071,"s26":12.22,"hi26":13.17,"lo26":11.96,"s48":10.58,"hi48":11.27,"lo48":9.8},
{"year":2075,"s26":12.1,"hi26":13.0,"lo26":11.86,"s48":10.48,"hi48":11.15,"lo48":9.7},
{"year":2079,"s26":12.0,"hi26":12.85,"lo26":11.75,"s48":10.35,"hi48":11.01,"lo48":9.6},
{"year":2083,"s26":11.9,"hi26":12.7,"lo26":11.63,"s48":10.31,"hi48":10.86,"lo48":9.5},
{"year":2087,"s26":11.81,"hi26":12.52,"lo26":11.5,"s48":10.22,"hi48":10.74,"lo48":9.4},
{"year":2091,"s26":11.69,"hi26":12.33,"lo26":11.39,"s48":10.12,"hi48":10.64,"lo48":9.3},
{"year":2095,"s26":11.6,"hi26":12.2,"lo26":11.34,"s48":9.98,"hi48":10.57,"lo48":9.2}
],
"amocGS": [
{"year":2006,"gs26":14.75,"gs48":12.22},{"year":2011,"gs26":14.59,"gs48":12.1},{"year":2015,"gs26":14.44,"gs48":12.03},{"year":2019,"gs26":14.35,"gs48":11.98},{"year":2023,"gs26":14.23,"gs48":11.93},{"year":2027,"gs26":14.11,"gs48":11.8},
{"year":2031,"gs26":13.97,"gs48":11.72},{"year":2035,"gs26":13.82,"gs48":11.63},{"year":2039,"gs26":13.65,"gs48":11.53},{"year":2043,"gs26":13.5,"gs48":11.42},{"year":2047,"gs26":13.38,"gs48":11.31},{"year":2051,"gs26":13.25,"gs48":11.26},
{"year":2055,"gs26":13.12,"gs48":11.25},{"year":2059,"gs26":13.04,"gs48":11.27},{"year":2063,"gs26":13.01,"gs48":11.34},{"year":2067,"gs26":13.04,"gs48":11.41},{"year":2071,"gs26":13.1,"gs48":11.46},{"year":2075,"gs26":13.14,"gs48":11.49},
{"year":2079,"gs26":13.16,"gs48":11.52},{"year":2083,"gs26":13.21,"gs48":11.55},{"year":2087,"gs26":13.26,"gs48":11.59},{"year":2091,"gs26":13.3,"gs48":11.62},{"year":2095,"gs26":13.33,"gs48":11.65}
],
"rapid": [
{"year":2005.5,"v":19.24},{"year":2006.5,"v":19.04},{"year":2007.4,"v":18.04},{"year":2008.4,"v":17.57},{"year":2009.5,"v":14.6},{"year":2010.2,"v":14.95},{"year":2011.5,"v":16.82},{"year":2012.4,"v":15.13},{"year":2013.6,"v":16.35}
],
"boxes": [
{"label":"26\u2009° N","x1":1897.9,"x2":1919.2,"y1":17.28,"y2":18.18,"xc":1908.55,"yc":17.73},
{"label":"RAPID 26\u2009° N","x1":2022.9,"x2":2066.7,"y1":17.28,"y2":18.18,"xc":2044.8,"yc":17.73},
{"label":"48\u2009° N","x1":1897.9,"x2":1919.2,"y1":11.59,"y2":12.49,"xc":1908.55,"yc":12.04}
],
"tagA": [{"label":"(a)","x":1831.7,"y":2.747}],
"headA": [{"label":"NAO index and Labrador MV, JFM (N=8)","x":1977.95,"y":2.639}],
"tagB": [{"label":"(b)","x":1831.8,"y":19.965}],
"headB": [{"label":"AMOC (N=12)","x":1973.1,"y":19.717}]
},
"vconcat": [
{
  "width": 806, "height": 350,
  "encoding": {"x": {"field": "year", "type": "quantitative", "title": null, "scale": {"domain": [1850, 2100], "nice": false, "zero": false},
     "axis": {"values": [1850,1860,1870,1880,1890,1900,1910,1920,1930,1940,1950,1960,1970,1980,1990,2000,2010,2020,2030,2040,2050,2060,2070,2080,2090,2100], "labelExpr": "datum.value % 20 == 0 ? datum.label : ''", "format": "d", "grid": true, "labelFont": "DejaVu Sans Condensed, DejaVu Sans", "labelFontSize": 17, "labelPadding": 5}}},
  "layer": [
    {
      "layer": [
        {"data": {"name": "bandA"}, "mark": {"type": "area", "color": "black", "opacity": 0.15},
         "encoding": {"y": {"field": "hi", "type": "quantitative", "title": null, "scale": {"domain": [-2.5, 2.5], "nice": false, "zero": false},
            "axis": {"orient": "left", "values": [-2.5,-1.5,-0.5,0,0.5,1.5,2.5], "format": ".1f", "labelExpr": "datum.value == 0 ? '' : datum.label", "grid": true, "labelFont": "DejaVu Sans Condensed, DejaVu Sans", "labelFontSize": 17, "labelPadding": 5, "title": null}},
           "y2": {"field": "lo"}}},
        {"data": {"name": "naoA"}, "mark": {"type": "line", "color": "black", "strokeWidth": 1.1},
         "encoding": {"y": {"field": "v", "type": "quantitative", "title": null}}},
        {"data": {"name": "naoS"}, "mark": {"type": "line", "color": "black", "strokeWidth": 3.5},
         "encoding": {"y": {"field": "v", "type": "quantitative", "title": null},
           "strokeDash": {"datum": "NAO JFM", "type": "nominal", "scale": {"domain": ["NAO JFM", "MV"], "range": [[1, 0], [9, 7]]},
             "legend": {"title": null, "orient": "none", "legendX": 441, "legendY": 305, "direction": "horizontal", "columns": 2, "symbolType": "stroke", "symbolSize": 1156, "symbolStrokeWidth": 3.5, "symbolStrokeColor": "black", "symbolOffset": 8, "labelFont": "DejaVu Sans", "labelFontSize": 20, "labelColor": "black", "labelOffset": 16, "columnPadding": 46, "padding": 4, "strokeColor": "black", "fillColor": "white", "cornerRadius": 4, "zindex": 2}}}},
        {"data": {"name": "tagA"}, "mark": {"type": "text", "font": "Liberation Sans", "fontWeight": "bold", "fontSize": 22, "align": "left", "baseline": "alphabetic", "color": "black"},
         "encoding": {"x": {"field": "x", "type": "quantitative"}, "y": {"field": "y", "type": "quantitative", "title": null}, "text": {"field": "label"}}},
        {"data": {"name": "headA"}, "mark": {"type": "text", "font": "Liberation Sans", "fontSize": 22, "align": "center", "baseline": "alphabetic", "color": "black"},
         "encoding": {"x": {"field": "x", "type": "quantitative"}, "y": {"field": "y", "type": "quantitative", "title": null}, "text": {"field": "label"}}}
      ]
    },
    {"data": {"name": "mv"}, "mark": {"type": "line", "color": "black", "strokeWidth": 3.5},
     "encoding": {"y": {"field": "mv", "type": "quantitative", "title": "(Sv)", "scale": {"domain": [0, 25], "nice": false, "zero": false},
        "axis": {"orient": "right", "values": [0,5,10,15,20,25], "grid": false, "labelFont": "DejaVu Sans Condensed, DejaVu Sans", "labelFontSize": 17, "labelPadding": 5, "titleFont": "DejaVu Sans Condensed, DejaVu Sans", "titleFontSize": 18, "titleAngle": 270, "titleX": 30, "titleY": 181, "titleAlign": "center", "titleBaseline": "middle"}},
       "strokeDash": {"datum": "MV", "type": "nominal"}}}
  ],
  "resolve": {"scale": {"y": "independent"}}
},
{
  "width": 806, "height": 350,
  "encoding": {"x": {"field": "year", "type": "quantitative", "title": null, "scale": {"domain": [1850, 2100], "nice": false, "zero": false},
     "axis": {"values": [1850,1860,1870,1880,1890,1900,1910,1920,1930,1940,1950,1960,1970,1980,1990,2000,2010,2020,2030,2040,2050,2060,2070,2080,2090,2100], "labelExpr": "datum.value % 20 == 0 ? datum.label : ''", "format": "d", "grid": true, "labelFont": "DejaVu Sans Condensed, DejaVu Sans", "labelFontSize": 17, "labelPadding": 5}}},
  "layer": [
    {"data": {"name": "amocS"}, "mark": {"type": "area", "color": "black", "opacity": 0.15, "clip": true},
     "encoding": {"y": {"field": "hi26", "type": "quantitative", "title": "(Sv)", "scale": {"domain": [10, 19.5], "nice": false, "zero": false},
        "axis": {"values": [10,11,12,13,14,15,16,17,18,19], "grid": true, "labelFont": "Liberation Sans", "labelFontSize": 15, "labelPadding": 8, "titleFont": "DejaVu Sans Condensed, DejaVu Sans", "titleFontSize": 18, "titlePadding": 8}},
       "y2": {"field": "lo26"}}},
    {"data": {"name": "amocS"}, "mark": {"type": "area", "color": "black", "opacity": 0.15, "clip": true},
     "encoding": {"y": {"field": "hi48", "type": "quantitative", "title": "(Sv)", "axis": {"values": [10,11,12,13,14,15,16,17,18,19], "grid": true, "labelFont": "Liberation Sans", "labelFontSize": 15, "labelPadding": 8, "titleFont": "DejaVu Sans Condensed, DejaVu Sans", "titleFontSize": 18, "titlePadding": 8}}, "y2": {"field": "lo48"}}},
    {"data": {"name": "amocG"}, "mark": {"type": "line", "color": "#808080", "strokeWidth": 1.2},
     "encoding": {"y": {"field": "g26", "type": "quantitative", "title": "(Sv)", "axis": {"values": [10,11,12,13,14,15,16,17,18,19], "grid": true, "labelFont": "Liberation Sans", "labelFontSize": 15, "labelPadding": 8, "titleFont": "DejaVu Sans Condensed, DejaVu Sans", "titleFontSize": 18, "titlePadding": 8}}}},
    {"data": {"name": "amocG"}, "mark": {"type": "line", "color": "#808080", "strokeWidth": 1.2},
     "encoding": {"y": {"field": "g48", "type": "quantitative", "title": "(Sv)", "axis": {"values": [10,11,12,13,14,15,16,17,18,19], "grid": true, "labelFont": "Liberation Sans", "labelFontSize": 15, "labelPadding": 8, "titleFont": "DejaVu Sans Condensed, DejaVu Sans", "titleFontSize": 18, "titlePadding": 8}}}},
    {"data": {"name": "amocGS"}, "mark": {"type": "line", "color": "#808080", "strokeWidth": 2.6},
     "encoding": {"y": {"field": "gs26", "type": "quantitative", "title": "(Sv)", "axis": {"values": [10,11,12,13,14,15,16,17,18,19], "grid": true, "labelFont": "Liberation Sans", "labelFontSize": 15, "labelPadding": 8, "titleFont": "DejaVu Sans Condensed, DejaVu Sans", "titleFontSize": 18, "titlePadding": 8}}}},
    {"data": {"name": "amocGS"}, "mark": {"type": "line", "color": "#808080", "strokeWidth": 2.6},
     "encoding": {"y": {"field": "gs48", "type": "quantitative", "title": "(Sv)", "axis": {"values": [10,11,12,13,14,15,16,17,18,19], "grid": true, "labelFont": "Liberation Sans", "labelFontSize": 15, "labelPadding": 8, "titleFont": "DejaVu Sans Condensed, DejaVu Sans", "titleFontSize": 18, "titlePadding": 8}}}},
    {"data": {"name": "amocA"}, "mark": {"type": "line", "color": "black", "strokeWidth": 1.1, "clip": true},
     "encoding": {"y": {"field": "t26", "type": "quantitative", "title": "(Sv)", "axis": {"values": [10,11,12,13,14,15,16,17,18,19], "grid": true, "labelFont": "Liberation Sans", "labelFontSize": 15, "labelPadding": 8, "titleFont": "DejaVu Sans Condensed, DejaVu Sans", "titleFontSize": 18, "titlePadding": 8}}}},
    {"data": {"name": "amocA"}, "mark": {"type": "line", "color": "black", "strokeWidth": 1.1, "clip": true},
     "encoding": {"y": {"field": "t48", "type": "quantitative", "title": "(Sv)", "axis": {"values": [10,11,12,13,14,15,16,17,18,19], "grid": true, "labelFont": "Liberation Sans", "labelFontSize": 15, "labelPadding": 8, "titleFont": "DejaVu Sans Condensed, DejaVu Sans", "titleFontSize": 18, "titlePadding": 8}}}},
    {"data": {"name": "amocS"}, "mark": {"type": "line", "color": "black", "strokeWidth": 2.6, "interpolate": "monotone", "clip": true},
     "encoding": {"y": {"field": "s26", "type": "quantitative", "title": "(Sv)", "axis": {"values": [10,11,12,13,14,15,16,17,18,19], "grid": true, "labelFont": "Liberation Sans", "labelFontSize": 15, "labelPadding": 8, "titleFont": "DejaVu Sans Condensed, DejaVu Sans", "titleFontSize": 18, "titlePadding": 8}}}},
    {"data": {"name": "amocS"}, "mark": {"type": "line", "color": "black", "strokeWidth": 2.6, "interpolate": "monotone", "clip": true},
     "encoding": {"y": {"field": "s48", "type": "quantitative", "title": "(Sv)", "axis": {"values": [10,11,12,13,14,15,16,17,18,19], "grid": true, "labelFont": "Liberation Sans", "labelFontSize": 15, "labelPadding": 8, "titleFont": "DejaVu Sans Condensed, DejaVu Sans", "titleFontSize": 18, "titlePadding": 8}}}},
    {"data": {"name": "rapid"}, "mark": {"type": "line", "color": "black", "strokeWidth": 1.1, "point": {"filled": true, "size": 55, "color": "black"}},
     "encoding": {"y": {"field": "v", "type": "quantitative", "title": "(Sv)", "axis": {"values": [10,11,12,13,14,15,16,17,18,19], "grid": true, "labelFont": "Liberation Sans", "labelFontSize": 15, "labelPadding": 8, "titleFont": "DejaVu Sans Condensed, DejaVu Sans", "titleFontSize": 18, "titlePadding": 8}}}},
    {"data": {"name": "boxes"}, "mark": {"type": "rect", "fill": "white", "stroke": "black", "strokeWidth": 1.2},
     "encoding": {"x": {"field": "x1", "type": "quantitative"}, "x2": {"field": "x2"}, "y": {"field": "y1", "type": "quantitative", "title": "(Sv)", "axis": {"values": [10,11,12,13,14,15,16,17,18,19], "grid": true, "labelFont": "Liberation Sans", "labelFontSize": 15, "labelPadding": 8, "titleFont": "DejaVu Sans Condensed, DejaVu Sans", "titleFontSize": 18, "titlePadding": 8}}, "y2": {"field": "y2"}}},
    {"data": {"name": "boxes"}, "mark": {"type": "text", "font": "Liberation Sans", "fontSize": 20, "align": "center", "baseline": "middle", "color": "black", "dy": 1},
     "encoding": {"x": {"field": "xc", "type": "quantitative"}, "y": {"field": "yc", "type": "quantitative", "title": "(Sv)", "axis": {"values": [10,11,12,13,14,15,16,17,18,19], "grid": true, "labelFont": "Liberation Sans", "labelFontSize": 15, "labelPadding": 8, "titleFont": "DejaVu Sans Condensed, DejaVu Sans", "titleFontSize": 18, "titlePadding": 8}}, "text": {"field": "label"}}},
    {"data": {"name": "tagB"}, "mark": {"type": "text", "font": "Liberation Sans", "fontWeight": "bold", "fontSize": 22, "align": "left", "baseline": "alphabetic", "color": "black"},
     "encoding": {"x": {"field": "x", "type": "quantitative"}, "y": {"field": "y", "type": "quantitative", "title": "(Sv)", "axis": {"values": [10,11,12,13,14,15,16,17,18,19], "grid": true, "labelFont": "Liberation Sans", "labelFontSize": 15, "labelPadding": 8, "titleFont": "DejaVu Sans Condensed, DejaVu Sans", "titleFontSize": 18, "titlePadding": 8}}, "text": {"field": "label"}}},
    {"data": {"name": "headB"}, "mark": {"type": "text", "font": "Liberation Sans", "fontSize": 22, "align": "center", "baseline": "alphabetic", "color": "black"},
     "encoding": {"x": {"field": "x", "type": "quantitative"}, "y": {"field": "y", "type": "quantitative", "title": "(Sv)", "axis": {"values": [10,11,12,13,14,15,16,17,18,19], "grid": true, "labelFont": "Liberation Sans", "labelFontSize": 15, "labelPadding": 8, "titleFont": "DejaVu Sans Condensed, DejaVu Sans", "titleFontSize": 18, "titlePadding": 8}}, "text": {"field": "label"}}}
  ]
}
]
}
